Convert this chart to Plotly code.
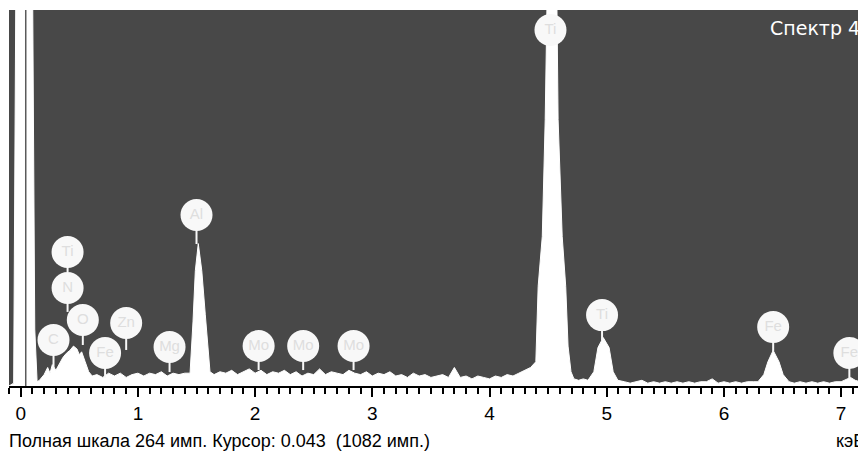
import plotly.graph_objects as go

# ---- spectrum data (energy in keV, counts) ----
energy = [
    -0.10, -0.06, -0.04, 0.00, 0.04, 0.08, 0.10, 0.12, 0.14,
    0.16, 0.20, 0.23, 0.25, 0.27, 0.30, 0.33, 0.36, 0.39, 0.42, 0.45, 0.48, 0.50,
    0.52, 0.55, 0.58, 0.61, 0.65, 0.70, 0.75, 0.80, 0.85, 0.90, 0.95, 1.00, 1.05,
    1.10, 1.15, 1.20, 1.25, 1.30, 1.35, 1.40,
    1.445, 1.47, 1.49, 1.515, 1.545, 1.575, 1.615,
    1.65, 1.70, 1.75, 1.80, 1.85, 1.90, 1.95, 2.00, 2.05, 2.10, 2.15, 2.20, 2.25,
    2.30, 2.35, 2.40, 2.45, 2.50, 2.55, 2.60, 2.65, 2.70, 2.75, 2.80, 2.85, 2.90,
    2.95, 3.00, 3.05, 3.10, 3.15, 3.20, 3.25, 3.30, 3.35, 3.40, 3.45, 3.50, 3.55,
    3.60, 3.65, 3.70, 3.75, 3.80, 3.85, 3.90, 3.95, 4.00, 4.05, 4.10, 4.15, 4.20,
    4.25, 4.30, 4.35,
    4.395, 4.415, 4.45, 4.475, 4.49, 4.53, 4.575, 4.585, 4.62, 4.65, 4.67, 4.695, 4.72,
    4.76, 4.80, 4.84,
    4.89, 4.925, 4.97, 5.02, 5.055, 5.095,
    5.15, 5.20, 5.25, 5.30, 5.35, 5.40, 5.45, 5.50, 5.55, 5.60, 5.65, 5.70, 5.75,
    5.80, 5.85, 5.90, 5.95, 6.00, 6.05, 6.10, 6.15, 6.20, 6.25,
    6.29, 6.34, 6.375, 6.42, 6.47, 6.505, 6.555,
    6.60, 6.65, 6.70, 6.75, 6.80, 6.85, 6.90, 6.95, 7.00, 7.05, 7.08, 7.12, 7.16, 7.21,
]
counts = [
    0, 2, 300, 900, 1082, 800, 300, 40, 3,
    4, 8, 13, 9, 15, 11, 16, 20, 23, 25, 28, 26, 22,
    24, 17, 10, 7, 8, 6, 9, 7, 9, 6, 8, 9, 7,
    9, 8, 10, 7, 9, 8, 9,
    9, 45, 81, 100, 81, 50, 10,
    8, 10, 9, 11, 8, 10, 12, 9, 11, 8, 10, 9, 11,
    8, 10, 7, 9, 8, 12, 8, 10, 9, 8, 11, 9, 8,
    10, 7, 9, 8, 10, 7, 8, 6, 9, 7, 8, 6, 7,
    8, 6, 13, 6, 7, 5, 7, 6, 5, 7, 6, 8, 7,
    9, 11, 13,
    17, 70, 105, 187, 267, 450, 267, 187, 105, 70, 28, 10, 5,
    4, 5, 4,
    10, 27, 34, 27, 10, 4,
    3, 2, 3, 4, 2, 3, 2, 3, 2, 3, 2, 3, 2,
    3, 3, 5, 2, 3, 2, 3, 2, 3, 3,
    3, 8, 17, 25, 17, 8, 3,
    2, 3, 2, 3, 2, 3, 2, 3, 3, 5, 6, 4, 3, 3,
]

# ---- element labels ----
label_text = ["Ti", "N", "O", "C", "Fe", "Zn", "Mg", "Al", "Mo", "Mo", "Mo", "Ti", "Ti", "Fe", "Fe"]
label_energy = [0.40, 0.40, 0.53, 0.28, 0.72, 0.90, 1.27, 1.50, 2.03, 2.41, 2.84, 4.52, 4.96, 6.42, 7.07]
label_counts = [94.1, 68.8, 46.3, 32.3, 23.2, 44.2, 27.4, 120.1, 28.1, 28.1, 28.1, 250.0, 49.8, 41.4, 23.2]
stem_end = [80.0, 52.0, 28.8, 12.6, 5.6, 25.3, 9.8, 99.7, 11.2, 11.2, 11.2, 240.0, 32.3, 24.6, 4.9]

full_scale = 264
cursor_energy = 0.043
cursor_counts = 1082
x_ticks = [0, 1, 2, 3, 4, 5, 6, 7]
tick_labels = ["0", "1", "2", "3", "4", "5", "6", "7"]

FONT = "Liberation Sans, Arial, sans-serif"

fig = go.Figure()

fig.add_trace(go.Scatter(
    x=energy, y=counts, mode="lines",
    line=dict(color="white", width=1),
    fill="tozeroy", fillcolor="white",
    hoverinfo="skip", showlegend=False,
))

# stems
sx, sy = [], []
for e, c, s in zip(label_energy, label_counts, stem_end):
    sx += [e, e, None]
    sy += [c, s, None]
fig.add_trace(go.Scatter(
    x=sx, y=sy, mode="lines",
    line=dict(color="#f8f8f8", width=2),
    hoverinfo="skip", showlegend=False,
))

fig.add_trace(go.Scatter(
    x=label_energy, y=label_counts, mode="markers+text",
    text=label_text, textposition="middle center",
    textfont=dict(family=FONT, size=15, color="#dedede"),
    marker=dict(size=32, color="#f8f8f8", line=dict(width=0)),
    hoverinfo="skip", showlegend=False, cliponaxis=False,
))

fig.add_shape(type="line", xref="x", yref="y",
              x0=cursor_energy, x1=cursor_energy, y0=0, y1=full_scale,
              line=dict(color="#5a5a5a", width=1.5))

fig.add_annotation(xref="paper", yref="paper", x=0.995, y=0.952,
                   xanchor="right", yanchor="middle", showarrow=False,
                   text="Спектр 4",
                   font=dict(family="DejaVu Sans, sans-serif", size=19, color="white"))

fig.add_annotation(xref="paper", yref="paper", x=-0.0012, y=-0.146,
                   xanchor="left", yanchor="middle", showarrow=False, borderpad=0,
                   text=f"Полная шкала {full_scale} имп. Курсор: {cursor_energy}\u00a0 ({cursor_counts} имп.)",
                   font=dict(family=FONT, size=18, color="black"))

fig.add_annotation(xref="paper", yref="paper", x=1.0, y=-0.146,
                   xanchor="right", yanchor="middle", showarrow=False, borderpad=0,
                   text="кэВ",
                   font=dict(family=FONT, size=18, color="black"))

# The page adds an 8 px body margin, so the figure is sized to fill the
# remaining 858x448 area of the 866x456 window.
fig.update_layout(
    width=858, height=448,
    margin=dict(l=1, r=0, t=2, b=70),
    paper_bgcolor="white", plot_bgcolor="#484848",
    showlegend=False,
    xaxis=dict(
        range=[-0.0998, 7.212], showgrid=False, zeroline=False,
        tickmode="array", tickvals=x_ticks, ticktext=tick_labels,
        ticks="outside", ticklen=9, tickwidth=1.5, tickcolor="black",
        showline=True, linecolor="black", linewidth=2,
        tickfont=dict(family=FONT, size=19, color="black"),
        minor=dict(ticks="outside", ticklen=6, tickwidth=1.5, tickcolor="black", dtick=0.1),
        fixedrange=True,
    ),
    yaxis=dict(range=[0, full_scale], visible=False, fixedrange=True),
)

fig.write_html("out.html")
